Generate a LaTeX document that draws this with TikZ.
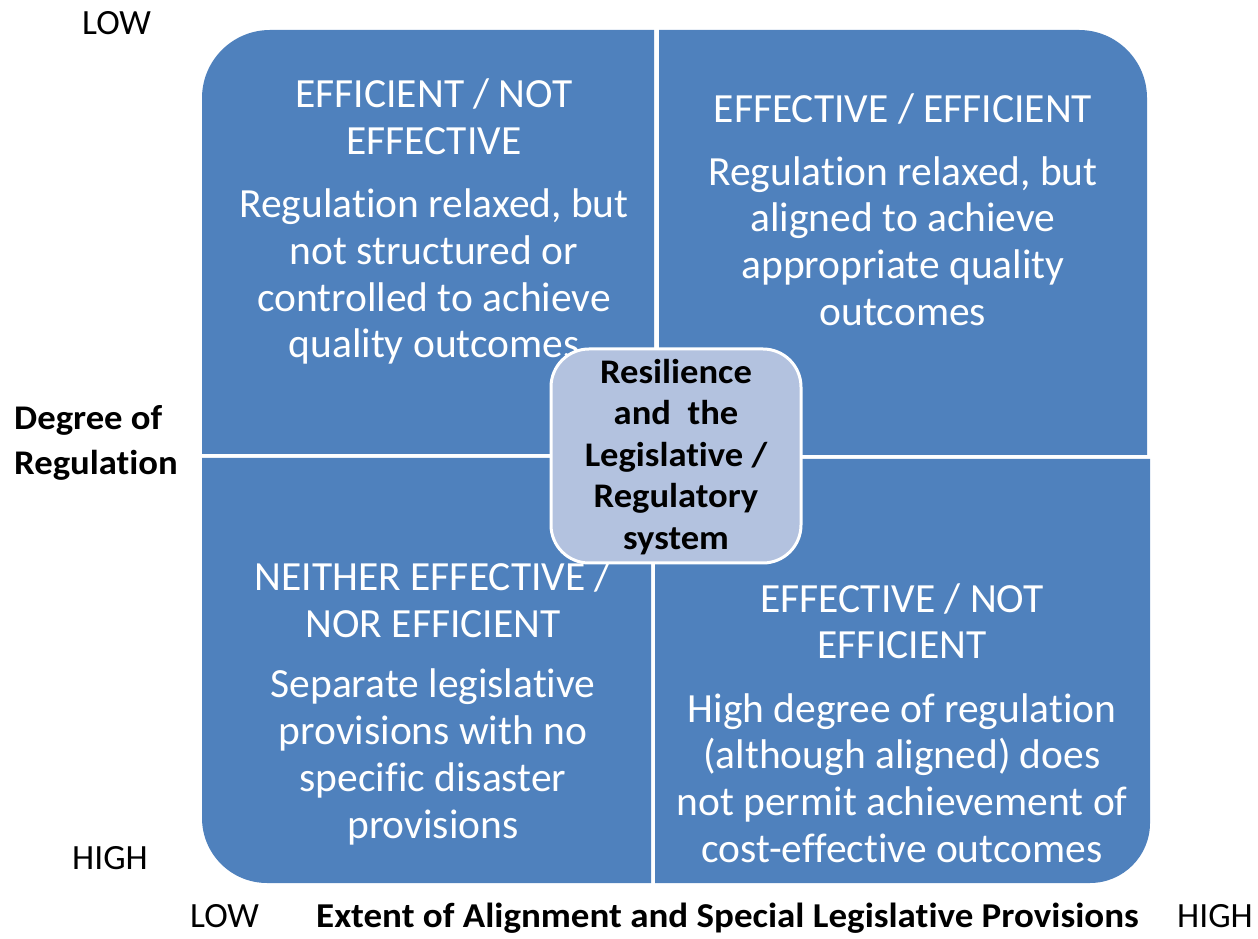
\documentclass[tikz,border=0pt]{standalone}
\usepackage{fontspec}
\setmainfont{Carlito}[Ligatures=NoCommon]
\newfontfamily\widebold{Carlito}[Ligatures=NoCommon, FakeStretch=1.06]
\definecolor{quad}{HTML}{4F81BD}
\definecolor{hub}{HTML}{B3C2DF}
\tikzset{
  qtxt/.style={text=white, inner sep=0pt, anchor=base, font=\fontsize{41.5}{47}\selectfont},
  htxt/.style={text=black, inner sep=0pt, anchor=base, font=\widebold\bfseries\fontsize{34.5}{41}\selectfont},
  axtxt/.style={text=black, inner sep=0pt, anchor=base west, font=\fontsize{35.5}{40}\selectfont},
  axbold/.style={text=black, inner sep=0pt, anchor=base west, font=\widebold\bfseries\fontsize{34.6}{45}\selectfont},
  hubbox/.style={draw=white, line width=3pt, fill=hub, rounded corners=38pt, minimum width=250pt, minimum height=214pt, inner sep=0pt}
}
\begin{document}
\begin{tikzpicture}[x=1pt,y=1pt]
\useasboundingbox (0,0) rectangle (1258,938);
% quadrants
\fill[quad] (202,484) -- (202,840) arc(180:90:68) -- (654,908) -- (654,484) -- cycle;
\fill[quad] (659,483) -- (659,908) -- (1079,908) arc(90:0:68) -- (1147,483) -- cycle;
\fill[quad] (202,480) -- (202,120) arc(180:270:65) -- (651,55) -- (651,480) -- cycle;
\fill[quad] (655,479) -- (655,55) -- (1090,55) arc(270:360:60) -- (1150,479) -- cycle;
% top-left text
\node[qtxt] (tl1) at (434,830) {EFFICIENT / NOT};
\node[qtxt] (tl2) at (434,783) {EFFECTIVE};
\node[qtxt] (tl3) at (434,720) {Regulation relaxed, but};
\node[qtxt] (tl4) at (434,673) {not structured or};
\node[qtxt] (tl5) at (434,626) {controlled to achieve};
\node[qtxt] (tl6) at (434,580) {quality outcomes};
% top-right text
\node[qtxt] (tr1) at (903,815) {EFFECTIVE / EFFICIENT};
\node[qtxt] (tr2) at (903,752) {Regulation relaxed, but};
\node[qtxt] (tr3) at (903,706) {aligned to achieve};
\node[qtxt] (tr4) at (903,659) {appropriate quality};
\node[qtxt] (tr5) at (903,612) {outcomes};
% bottom-left text
\node[qtxt] (bl1) at (433,348) {NEITHER EFFECTIVE /};
\node[qtxt] (bl2) at (433,301) {NOR EFFICIENT};
\node[qtxt] (bl3) at (433,241) {Separate legislative};
\node[qtxt] (bl4) at (433,194) {provisions with no};
\node[qtxt] (bl5) at (433,147) {specific disaster};
\node[qtxt] (bl6) at (433,100) {provisions};
% bottom-right text
\node[qtxt] (br1) at (902,326) {EFFECTIVE / NOT};
\node[qtxt] (br2) at (902,280) {EFFICIENT};
\node[qtxt] (br3) at (902,216) {High degree of regulation};
\node[qtxt] (br4) at (902,170) {(although aligned) does};
\node[qtxt] (br5) at (902,123) {not permit achievement of};
\node[qtxt] (br6) at (902,76) {cost-effective outcomes};
% centre box
\node[hubbox] (hub) at (676,482) {};
\node[htxt] (h1) at (676,554) {Resilience};
\node[htxt] (h2) at (676,513) {and\ \ the};
\node[htxt] (h3) at (676,471) {Legislative /};
\node[htxt] (h4) at (676,430) {Regulatory};
\node[htxt] (h5) at (676,388) {system};
% axes labels
\node[axtxt] (lowy) at (82,903) {LOW};
\node[axtxt] (highy) at (72,69) {HIGH};
\node[axbold] (deg1) at (14,508) {Degree of};
\node[axbold] (deg2) at (14,463) {Regulation};
\node[axtxt] (lowx) at (190,11) {LOW};
\node[axbold, font=\widebold\bfseries\fontsize{34.9}{40}\selectfont] (extent) at (316,11) {Extent of Alignment and Special Legislative Provisions};
\node[axtxt] (highx) at (1177,11) {HIGH};
\end{tikzpicture}
\end{document}
